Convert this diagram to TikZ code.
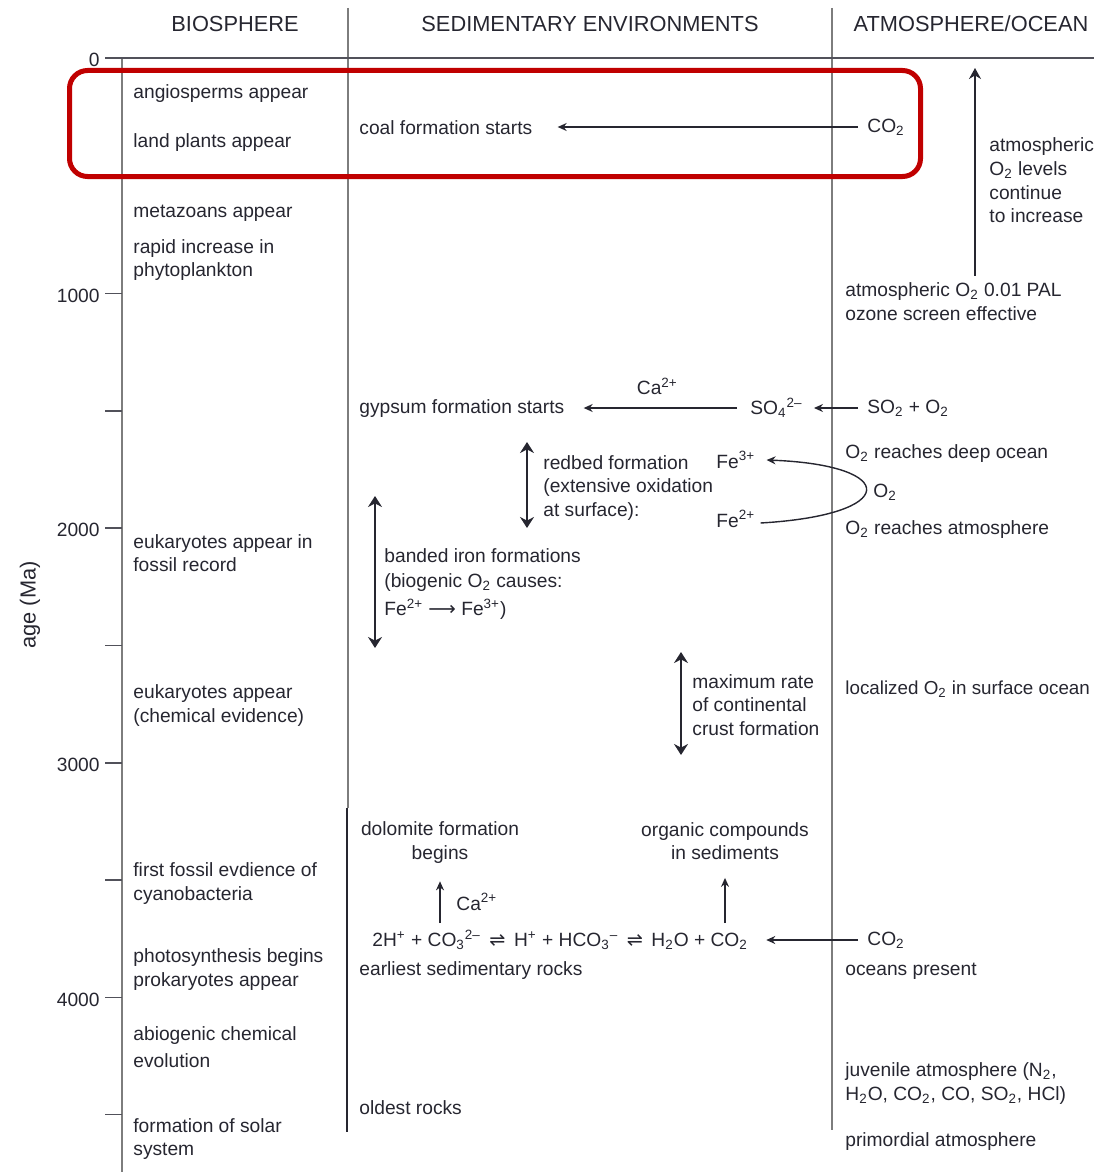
\documentclass[tikz,border=0pt]{standalone}
\usepackage{fontspec}
\setmainfont{Liberation Sans}
\newfontfamily\dvsfont{DejaVu Sans}
\usetikzlibrary{arrows.meta,positioning,calc}
\newcommand{\Subs}[1]{\textsubscript{#1}}
\newcommand{\Sups}[1]{\textsuperscript{#1}}
\newcommand{\Oxy}{O\Subs{2}}
\newcommand{\Carb}{CO\Subs{2}}
\definecolor{ink}{RGB}{38,38,48}
\definecolor{rulegray}{RGB}{125,125,125}
\definecolor{boxred}{RGB}{192,0,0}
\tikzset{
  txt/.style={anchor=west, align=left, inner xsep=0pt, yshift=-1pt, text=ink, font=\fontsize{9.6}{11.8}\selectfont},
  ctxt/.style={txt, anchor=center, align=center},
  head/.style={text=ink, font=\fontsize{10.9}{13}\selectfont},
  arr/.style={-{Stealth[length=4.5pt,width=4pt]}, line width=0.7pt, draw=ink},
  bigarr/.style={-{Stealth[length=5.5pt,width=6pt]}, line width=0.75pt, draw=ink},
  darr/.style={{Stealth[length=5.5pt,width=7pt]}-{Stealth[length=5.5pt,width=7pt]}, line width=0.8pt, draw=ink},
  colline/.style={rulegray, line width=1pt},
}

\begin{document}
\begin{tikzpicture}[x=0.5pt, y=-0.5pt]
    \useasboundingbox (0,0) rectangle (1094,1172);

    % columns and time axis
    \draw[colline] (122,58) -- (122,1172);
    \draw[colline] (348,8) -- (348,808);
    \draw[ink, line width=0.8pt] (347,808) -- (347,1132);
    \draw[colline] (832,8) -- (832,1130);
    \draw[ink!80, line width=0.75pt] (105,58) -- (1094,58);
    \foreach \t in {1,...,9}
        \draw[ink!80, line width=0.75pt] (105,{59+117.3*\t}) -- (122,{59+117.3*\t});

    \node (T0) [txt, anchor=east] at (100,58) {0};
    \foreach \t/\lab in {2/1000,4/2000,6/3000,8/4000}
        \node (T\lab) [txt, anchor=east] at (100,{59+117.3*\t}) {\lab};
    \node (Age) [head, rotate=90] at (30,605) {age (Ma)};

    \node (HBio) [head] at (235,24) {BIOSPHERE};
    \node (HSed) [head] at (590,24) {SEDIMENTARY ENVIRONMENTS};
    \node (HAtm) [head] at (971,24) {ATMOSPHERE/OCEAN};

    % biosphere
    \node (Angio) [txt] at (133,92) {angiosperms appear};
    \node (LandPl) [txt] at (133,141) {land plants appear};
    \node (Metaz) [txt] at (133,211) {metazoans appear};
    \node (Phyto) [txt] at (133,258) {rapid increase in\\phytoplankton};
    \node (EukFos) [txt] at (133,551) {eukaryotes appear in\\fossil record};
    \node (EukChem) [txt] at (133,703.5) {eukaryotes appear\\(chemical evidence)};
    \node (Cyano) [txt] at (133,881.5) {first fossil evdience of\\cyanobacteria};
    \node (Photo) [txt] at (133,967.5) {photosynthesis begins\\prokaryotes appear};
    \node (Abio) [txt] at (133,1045) {abiogenic chemical\\[2pt]evolution};
    \node (Solar) [txt] at (133,1137) {formation of solar\\system};

    % sedimentary environments
    \node (Coal) [txt] at (359,126) {coal formation starts};
    \node (CoalCO) [txt] at (867,125) {\Carb};
    \draw[arr, shorten <=4.5pt, shorten >=12.5pt] (CoalCO.west) -- (CoalCO.west -| Coal.east);

    \node (Gyp) [txt] at (359,407) {gypsum formation starts};
    \node (SOf) [txt] at (750,406) {SO\Subs{4}\Sups{2--}};
    \node (SOtwo) [txt] at (867,406) {SO\Subs{2} + \Oxy};
    \draw[arr, shorten <=6.5pt, shorten >=9.5pt] (SOf.west) -- (SOf.west -| Gyp.east)
        node[txt, midway, above=4pt] {Ca\Sups{2+}};
    \draw[arr, shorten <=4.5pt, shorten >=5.5pt] (SOtwo.west) -- (SOtwo.west -| SOf.east);

    \node (Redbed) [txt] at (543,486) {redbed formation\\(extensive oxidation\\at surface):};
    \coordinate (RedTop) at (527,442);
    \coordinate (RedBot) at (527,528);
    \draw[darr] (RedTop) -- (RedBot);

    \node (FeIII) [txt] at (716,458) {Fe\Sups{3+}};
    \node (FeII) [txt] at (716,517) {Fe\Sups{2+}};
    \node (CycO) [txt] at (873,490) {\Oxy};
    \draw[arr] ([shift={(2.5pt,-2pt)}]FeII.east) .. controls (900,515) and (900,465) .. ([xshift=5.5pt]FeIII.east);

    \node (BIF) [txt] at (384,582) {banded iron formations\\[1pt](biogenic \Oxy{} causes:\\[2pt]Fe\Sups{2+} {\dvsfont ⟶} Fe\Sups{3+})};
    \coordinate (BIFtop) at (375,496);
    \coordinate (BIFbot) at (375,648);
    \draw[darr] (BIFtop) -- (BIFbot);

    \node (Crust) [txt] at (692,703) {maximum rate\\of continental\\crust formation};
    \coordinate (CrTop) at (681,652);
    \coordinate (CrBot) at (681,755);
    \draw[darr] (CrTop) -- (CrBot);

    \node (Dolo) [ctxt] at (440,840.5) {dolomite formation\\begins};
    \node (Org) [ctxt] at (725,839) {organic compounds\\in sediments};
    \node (Eq) [txt] at (372,938) {2H\Sups{+} + CO\Subs{3}\Sups{2--}\, {\dvsfont ⇌}\, H\Sups{+} + HCO\Subs{3}\Sups{--}\, {\dvsfont ⇌}\, H\Subs{2}O + \Carb};
    \node (SedCO) [txt] at (867,938) {\Carb};
    \node (DoloCa) [txt] at (456,900) {Ca\Sups{2+}};
    \draw[arr, shorten >=5.5pt] (Eq.north -| Dolo.south) -- (Dolo.south);
    \draw[arr, shorten >=5.5pt] (Eq.north -| Org.south) -- (Org.south);
    \draw[arr, shorten <=4.5pt, shorten >=9pt] (SedCO.west) -- (SedCO.west -| Eq.east);

    \node (Earliest) [txt] at (359,969) {earliest sedimentary rocks};
    \node (Oldest) [txt] at (359,1106) {oldest rocks};

    % atmosphere and ocean
    \node (Incr) [txt] at (989,178.5) {atmospheric\\\Oxy{} levels\\continue\\to increase};
    \node (PAL) [txt] at (845,299.5) {atmospheric \Oxy{} 0.01 PAL\\ozone screen effective};
    \coordinate (IncrTop) at (975,68);
    \draw[bigarr] (PAL.north -| IncrTop) -- (IncrTop);

    \node (DeepOc) [txt] at (845,452) {\Oxy{} reaches deep ocean};
    \node (ReachAt) [txt] at (845,528) {\Oxy{} reaches atmosphere};
    \node (LocO) [txt, font=\fontsize{9.4}{11.8}\selectfont] at (845,687) {localized \Oxy{} in surface ocean};
    \node (Oceans) [txt] at (845,969) {oceans present};
    \node (Juven) [txt] at (845,1081.5) {juvenile atmosphere (N\Subs{2},\\H\Subs{2}O, \Carb, CO, SO\Subs{2}, HCl)};
    \node (Primo) [txt] at (845,1140) {primordial atmosphere};

    % highlight
    \draw[boxred, line width=2.5pt, rounded corners=9pt] (69.5,70.5) rectangle (920.5,176.5);
\end{tikzpicture}
\end{document}
